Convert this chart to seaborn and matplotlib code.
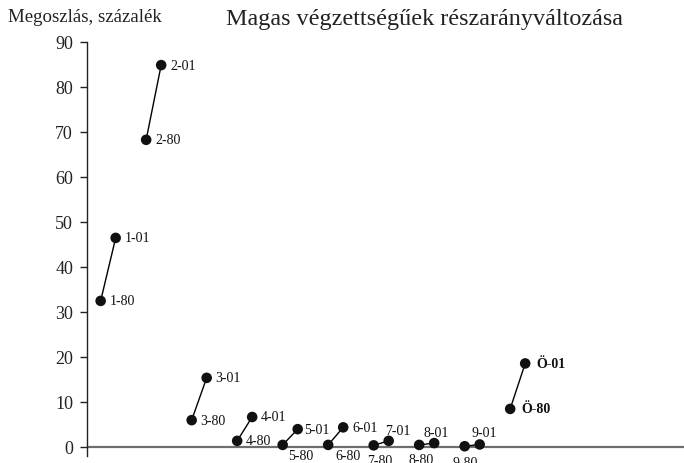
"""Magas végzettségűek részarányváltozása - 1980 vs 2001 pair chart."""

import matplotlib

matplotlib.use("Agg")

import matplotlib.pyplot as plt
import pandas as pd
import seaborn as sns


# data
groups = ["1", "2", "3", "4", "5", "6", "7", "8", "9", "Ö"]
years = ["80", "01"]
share_80 = [32.4, 68.2, 5.9, 1.3, 0.4, 0.4, 0.3, 0.4, 0.1, 8.4]
share_01 = [46.4, 84.8, 15.3, 6.6, 3.9, 4.3, 1.3, 0.8, 0.5, 18.5]
y_ticks = [0, 10, 20, 30, 40, 50, 60, 70, 80, 90]

title = "Magas végzettségűek részarányváltozása"
y_label = "Megoszlás, százalék"

# layout: where the two points of a group sit inside its slot
SLOT_START = 0.30
SLOT_STEP = 0.33

# label offsets in pixels (dx right, dy down) from the point, text left-aligned
LABEL_OFFSETS = {
    "5-80": (5, 11), "6-80": (7, 11), "7-80": (-7, 15), "8-80": (-11, 15), "9-80": (-12, 16),
    "7-01": (-4, -10), "8-01": (-11, -11), "9-01": (-8, -12),
    "5-01": (6, 0),
}
DEFAULT_OFFSET = (9, 0)

sns.set_style("white")
plt.rcParams["font.family"] = ["Liberation Serif", "DejaVu Serif"]

rows = []
for i, group in enumerate(groups):
    for j, (year, value) in enumerate(zip(years, (share_80[i], share_01[i]))):
        rows.append({
            "group": group,
            "year": year,
            "share": value,
            "x": i + SLOT_START + j * SLOT_STEP,
        })
df = pd.DataFrame(rows)

fig = plt.figure(figsize=(6.84, 4.64), dpi=100)
ax = fig.add_axes([87 / 684, 7.3 / 464, 597 / 684, 414 / 464])

ax.axhline(0, color="#6e6e6e", linewidth=1.6, zorder=1)
sns.lineplot(
    data=df, x="x", y="share", units="group", estimator=None,
    color="black", linewidth=1.0, legend=False, ax=ax, zorder=2,
)
sns.scatterplot(
    data=df, x="x", y="share", color="#111111", s=58,
    edgecolor="none", legend=False, ax=ax, zorder=3,
)

px = 72 / 100
for _, row in df.iterrows():
    label = f"{row['group']}-{row['year']}"
    dx, dy = LABEL_OFFSETS.get(label, DEFAULT_OFFSET)
    bold = row["group"] == "Ö"
    if bold:
        dx += 2
    ax.annotate(
        label, (row["x"], row["share"]),
        xytext=(dx * px, -dy * px), textcoords="offset points",
        ha="left", va="center", fontsize=10,
        fontweight="bold" if bold else "normal", color="#111111",
    )

ax.set_xlim(0, 13.12)
ax.set_ylim(-2, 90)
ax.set_yticks(y_ticks)
ax.set_xticks([])
ax.set_xlabel("")
ax.set_ylabel("")
ax.tick_params(axis="y", left=True, length=5, width=1, color="#222222",
               pad=5, labelsize=13, labelcolor="#222222")
for side in ("top", "right", "bottom"):
    ax.spines[side].set_visible(False)
ax.spines["left"].set_color("#222222")
ax.spines["left"].set_linewidth(1.0)

fig.text(8 / 684, 1 - 17 / 464, y_label, fontsize=13.6, ha="left", va="center", color="#222222")
fig.text(424 / 684, 1 - 19 / 464, title, fontsize=17.4, ha="center", va="center", color="#222222")

fig.savefig("out.png", dpi=100)
plt.close(fig)
